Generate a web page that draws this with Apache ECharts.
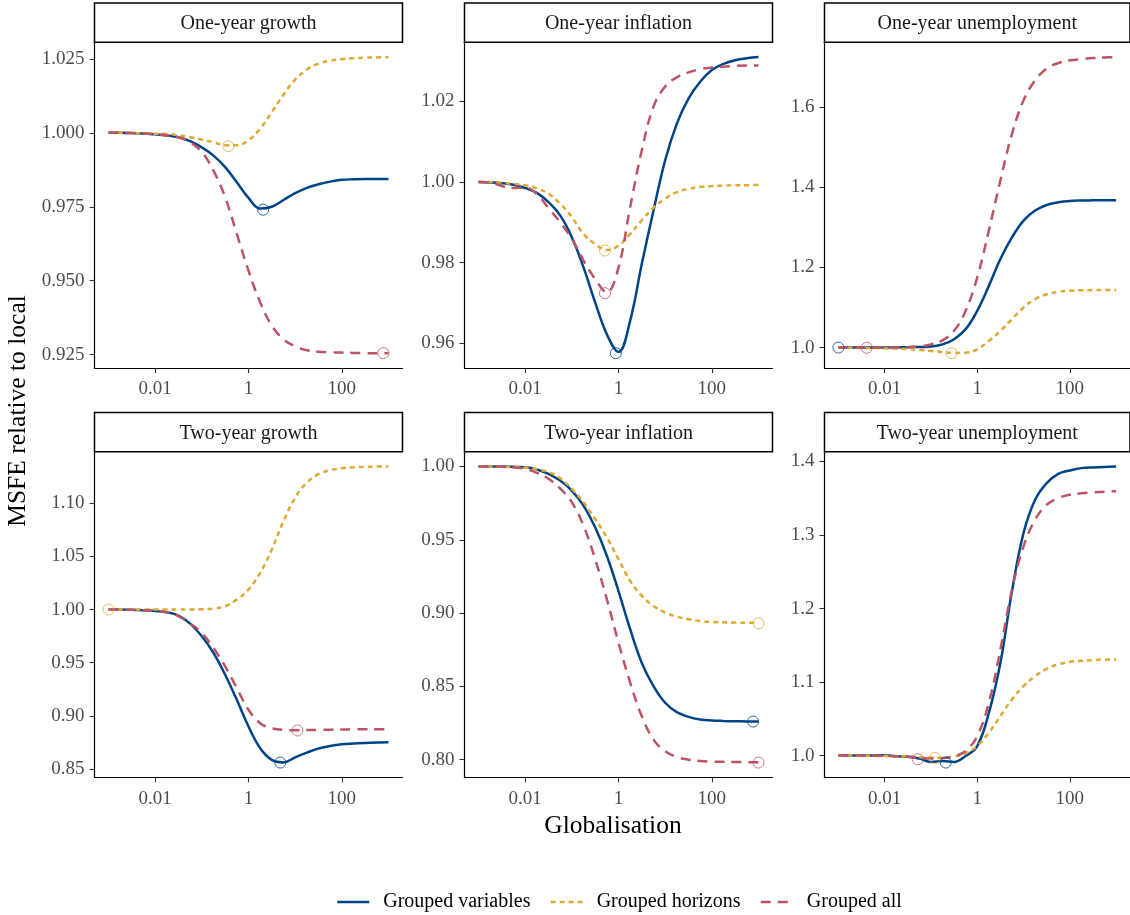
<!DOCTYPE html>
<html>
<head>
<meta charset="utf-8">
<script src="https://cdn.jsdelivr.net/npm/echarts@6/dist/echarts.min.js"></script>
<style>
  html, body { margin: 0; padding: 0; background: #ffffff; }
  #chart { width: 1130px; height: 915px; }
</style>
</head>
<body>
<div id="chart"></div>
<script>
// Globalisation (shrinkage) grid, log-spaced from 0.001 to 1000
const globalisation = [0.001, 0.00178, 0.00316, 0.00562, 0.01, 0.0178, 0.0316, 0.0562, 0.1, 0.178, 0.316, 0.562,
  1, 1.78, 3.16, 5.62, 10, 17.8, 31.6, 56.2, 100, 178, 316, 562, 1000];

const methods = ['Grouped variables', 'Grouped horizons', 'Grouped all'];
const panelTitles = ['One-year growth', 'One-year inflation', 'One-year unemployment',
  'Two-year growth', 'Two-year inflation', 'Two-year unemployment'];

// MSFE relative to local, per target and method
const growth1Variables = [1.0000, 1.0000, 0.9999, 0.9998, 0.9995, 0.9991, 0.9985, 0.9972, 0.9951, 0.9923, 0.9884, 0.9833,
  0.9780, 0.9744, 0.9750, 0.9773, 0.9796, 0.9814, 0.9826, 0.9835, 0.9841, 0.9843, 0.9844, 0.9844, 0.9844];
const growth1Horizons = [1.0000, 1.0000, 0.9999, 0.9998, 0.9997, 0.9996, 0.9992, 0.9985, 0.9977, 0.9968, 0.9958, 0.9958,
  0.9975, 1.0014, 1.0070, 1.0129, 1.0180, 1.0214, 1.0234, 1.0244, 1.0249, 1.0252, 1.0254, 1.0255, 1.0256];
const growth1All = [1.0000, 1.0000, 0.9999, 0.9998, 0.9995, 0.9991, 0.9985, 0.9968, 0.9935, 0.9872, 0.9782, 0.9658,
  0.9534, 0.9427, 0.9348, 0.9302, 0.9278, 0.9265, 0.9260, 0.9258, 0.9257, 0.9256, 0.9255, 0.9255, 0.9255];

const inflation1Variables = [1.0000, 0.9999, 0.9997, 0.9993, 0.9985, 0.9973, 0.9950, 0.9917, 0.9863, 0.9788, 0.9701, 0.9622,
  0.9578, 0.9656, 0.9797, 0.9929, 1.0054, 1.0145, 1.0207, 1.0249, 1.0278, 1.0293, 1.0302, 1.0307, 1.0310];
const inflation1Horizons = [1.0000, 1.0000, 0.9998, 0.9995, 0.9992, 0.9984, 0.9971, 0.9946, 0.9913, 0.9871, 0.9846, 0.9831,
  0.9842, 0.9871, 0.9905, 0.9936, 0.9959, 0.9975, 0.9983, 0.9988, 0.9990, 0.9991, 0.9992, 0.9992, 0.9993];
const inflation1All = [1.0000, 0.9999, 0.9990, 0.9985, 0.9986, 0.9970, 0.9935, 0.9900, 0.9859, 0.9805, 0.9759, 0.9726,
  0.9788, 0.9938, 1.0079, 1.0187, 1.0237, 1.0260, 1.0272, 1.0280, 1.0284, 1.0286, 1.0288, 1.0289, 1.0289];

const unemployment1Variables = [1.000, 1.000, 1.000, 1.000, 1.000, 1.0005, 1.001, 1.0015, 1.0025, 1.008, 1.021, 1.046,
  1.092, 1.154, 1.221, 1.275, 1.317, 1.342, 1.356, 1.3625, 1.366, 1.367, 1.3675, 1.368, 1.368];
const unemployment1Horizons = [1.000, 0.9995, 0.999, 0.9985, 0.998, 0.9975, 0.996, 0.994, 0.9917, 0.989, 0.9867, 0.9875,
  0.9958, 1.0167, 1.0417, 1.0708, 1.100, 1.121, 1.133, 1.139, 1.142, 1.143, 1.1435, 1.144, 1.144];
const unemployment1All = [1.000, 1.000, 1.000, 1.000, 1.000, 1.0005, 1.001, 1.003, 1.008, 1.018, 1.042, 1.092,
  1.175, 1.292, 1.417, 1.533, 1.617, 1.667, 1.696, 1.710, 1.717, 1.720, 1.7225, 1.724, 1.725];

const growth2Variables = [1.0000, 1.0000, 0.9997, 0.9994, 0.9987, 0.9975, 0.9943, 0.9868, 0.9748, 0.9591, 0.9387, 0.9151,
  0.8899, 0.8695, 0.8585, 0.8562, 0.8610, 0.8654, 0.8692, 0.8717, 0.8733, 0.8740, 0.8745, 0.8749, 0.8752];
const growth2Horizons = [1.0000, 1.0000, 1.0000, 1.0000, 1.0000, 1.0000, 1.0000, 1.0000, 1.0003, 1.0010, 1.0031, 1.0094,
  1.0189, 1.0346, 1.0566, 1.0833, 1.1053, 1.1195, 1.1274, 1.1311, 1.1330, 1.1338, 1.1343, 1.1345, 1.1346];
const growth2All = [1.0000, 1.0000, 0.9997, 0.9994, 0.9987, 0.9975, 0.9937, 0.9868, 0.9780, 0.9638, 0.9465, 0.9261,
  0.9057, 0.8931, 0.8884, 0.8868, 0.8865, 0.8866, 0.8868, 0.8870, 0.8872, 0.8873, 0.8874, 0.8874, 0.8874];

const inflation2Variables = [1.000, 1.000, 1.000, 0.9998, 0.9995, 0.998, 0.995, 0.9904, 0.9836, 0.9733, 0.9585, 0.9391,
  0.9150, 0.8890, 0.8660, 0.8502, 0.8388, 0.8324, 0.8292, 0.8274, 0.8267, 0.8264, 0.8262, 0.8261, 0.8260];
const inflation2Horizons = [1.000, 1.000, 0.9998, 0.9996, 0.9993, 0.998, 0.9963, 0.992, 0.9847, 0.9756, 0.9642, 0.9517,
  0.9368, 0.9220, 0.9117, 0.9049, 0.9003, 0.8976, 0.8958, 0.8946, 0.8940, 0.8937, 0.8935, 0.8934, 0.8933];
const inflation2All = [1.000, 1.000, 0.9998, 0.9993, 0.9984, 0.9957, 0.9916, 0.985, 0.9756, 0.9596, 0.9368, 0.9095,
  0.8798, 0.8525, 0.8296, 0.8137, 0.8057, 0.8018, 0.8000, 0.7991, 0.7986, 0.7985, 0.7984, 0.7983, 0.7982];

const unemployment2Variables = [1.000, 1.000, 1.000, 1.0003, 1.0005, 0.999, 0.9986, 0.996, 0.9914, 0.9925, 0.9914, 0.9995,
  1.013, 1.058, 1.126, 1.2235, 1.3027, 1.348, 1.3706, 1.3833, 1.3878, 1.391, 1.3919, 1.3926, 1.3932];
const unemployment2Horizons = [1.000, 1.000, 0.9998, 0.9996, 0.9995, 0.9993, 0.999, 0.9977, 0.9973, 0.9968, 0.9986, 1.0032,
  1.0131, 1.0312, 1.0538, 1.0765, 1.0946, 1.1081, 1.1181, 1.124, 1.1276, 1.129, 1.1299, 1.1305, 1.1308];
const unemployment2All = [1.000, 1.000, 1.000, 0.9998, 0.9995, 0.999, 0.9986, 0.9968, 0.996, 0.9968, 0.999, 1.0063,
  1.0267, 1.072, 1.1443, 1.2258, 1.2846, 1.3208, 1.3412, 1.3502, 1.3548, 1.3568, 1.358, 1.359, 1.3597];

// Minimum-MSFE points [globalisation, MSFE], in method order
const growth1Minima = [[2.06, 0.9740], [0.37, 0.9955], [776, 0.9255]];
const inflation1Minima = [[0.877, 0.9575], [0.513, 0.9830], [0.513, 0.9724]];
const unemployment1Minima = [[0.001, 1.000], [0.277, 0.986], [0.0041, 0.9995]];
const growth2Minima = [[4.79, 0.8560], [0.001, 1.000], [11.2, 0.8862]];
const inflation2Minima = [[769, 0.826], [1000, 0.893], [1000, 0.798]];
const unemployment2Minima = [[0.209, 0.9905], [0.122, 0.9968], [0.0518, 0.995]];

// Axis ticks
const xTicks = [0.01, 1, 100];
const xTickLabels = ['0.01', '1', '100'];
const yTicks = [
  [0.925, 0.950, 0.975, 1.000, 1.025],
  [0.96, 0.98, 1.00, 1.02],
  [1.0, 1.2, 1.4, 1.6],
  [0.85, 0.90, 0.95, 1.00, 1.05, 1.10],
  [0.80, 0.85, 0.90, 0.95, 1.00],
  [1.0, 1.1, 1.2, 1.3, 1.4]
];
const yDecimals = [3, 2, 1, 2, 2, 1];

const panelSeries = [
  [growth1Variables, growth1Horizons, growth1All],
  [inflation1Variables, inflation1Horizons, inflation1All],
  [unemployment1Variables, unemployment1Horizons, unemployment1All],
  [growth2Variables, growth2Horizons, growth2All],
  [inflation2Variables, inflation2Horizons, inflation2All],
  [unemployment2Variables, unemployment2Horizons, unemployment2All]
];
const panelMinima = [growth1Minima, inflation1Minima, unemployment1Minima, growth2Minima, inflation2Minima, unemployment2Minima];

// Styling
const FONT = 'Liberation Serif';
const colors = ['#004488', '#DDAA33', '#BB5566'];
const dashes = ['solid', [5, 4], [10, 7]];
const colLeft = [94.5, 464.5, 824.5];
const colWidth = [308, 308, 305.5];
const rowTop = [42.3, 451.7];
const panelHeight = 325.7;
const stripHeight = 39.3;

// ggplot-style 5% expansion of the data range
function expand(lo, hi, f) { const d = hi - lo; return [lo - f * d, hi + f * d]; }
const lx = expand(Math.log10(globalisation[0]), Math.log10(globalisation[globalisation.length - 1]), 0.05);
const xMin = Math.pow(10, lx[0]);
const xMax = Math.pow(10, lx[1]);

const grids = [], xAxes = [], yAxes = [], series = [], graphics = [];

panelTitles.forEach((title, p) => {
  const r = Math.floor(p / 3), c = p % 3;
  grids.push({ left: colLeft[c], top: rowTop[r], width: colWidth[c], height: panelHeight, containLabel: false, outerBoundsMode: 'none' });

  const all = [];
  panelSeries[p].forEach(s => all.push(...s));
  panelMinima[p].forEach(m => all.push(m[1]));
  const yr = expand(Math.min(...all), Math.max(...all), 0.05);

  xAxes.push({
    type: 'log', logBase: 10, gridIndex: p, min: xMin, max: xMax,
    axisLine: { show: true, lineStyle: { color: '#000', width: 1.2 } },
    axisTick: { show: true, length: 5, customValues: xTicks, lineStyle: { color: '#333', width: 1.1 } },
    axisLabel: {
      customValues: xTicks, margin: 12, fontFamily: FONT, fontSize: 19, color: '#4D4D4D',
      formatter: v => {
        const i = xTicks.findIndex(t => Math.abs(Math.log10(t) - Math.log10(v)) < 1e-6);
        return i >= 0 ? xTickLabels[i] : '';
      }
    },
    splitLine: { show: false }, minorTick: { show: false }
  });
  yAxes.push({
    type: 'value', gridIndex: p, min: yr[0], max: yr[1], scale: true,
    axisLine: { show: true, lineStyle: { color: '#000', width: 1.2 } },
    axisTick: { show: true, length: 5, customValues: yTicks[p], lineStyle: { color: '#333', width: 1.1 } },
    axisLabel: {
      customValues: yTicks[p], margin: 10, fontFamily: FONT, fontSize: 19, color: '#4D4D4D',
      formatter: v => v.toFixed(yDecimals[p])
    },
    splitLine: { show: false }
  });

  panelSeries[p].forEach((vals, m) => {
    series.push({
      type: 'line', name: methods[m], xAxisIndex: p, yAxisIndex: p,
      data: globalisation.map((g, i) => [g, vals[i]]),
      symbol: 'none', showSymbol: false, smooth: 0.4, silent: true, z: 2 + m,
      lineStyle: { color: colors[m], width: 2.5, type: dashes[m], cap: 'butt' },
      itemStyle: { color: colors[m] }
    });
  });
  panelMinima[p].forEach((pt, m) => {
    series.push({
      type: 'scatter', name: 'min ' + methods[m], xAxisIndex: p, yAxisIndex: p,
      data: [pt], symbol: 'circle', symbolSize: 11, silent: true, z: 6,
      itemStyle: { color: 'rgba(255,255,255,0)', borderColor: colors[m], borderWidth: 1 }
    });
  });

  // facet strip
  graphics.push({
    type: 'rect', silent: true, z: 10,
    shape: { x: colLeft[c], y: rowTop[r] - stripHeight, width: colWidth[c], height: stripHeight },
    style: { fill: '#ffffff', stroke: '#000000', lineWidth: 1.5 }
  });
  graphics.push({
    type: 'text', silent: true, z: 11,
    x: colLeft[c] + colWidth[c] / 2, y: rowTop[r] - stripHeight / 2 + 1.5,
    style: { text: title, fill: '#1A1A1A', fontFamily: FONT, fontSize: 20, align: 'center', verticalAlign: 'middle' }
  });
});

graphics.push({
  type: 'text', silent: true, x: 613, y: 826,
  style: { text: 'Globalisation', fill: '#000', fontFamily: FONT, fontSize: 25.5, align: 'center', verticalAlign: 'middle' }
});
graphics.push({
  type: 'text', silent: true, x: 18, y: 411, rotation: Math.PI / 2,
  style: { text: 'MSFE relative to local', fill: '#000', fontFamily: FONT, fontSize: 25.5, align: 'center', verticalAlign: 'middle' }
});

const chart = echarts.init(document.getElementById('chart'), null, { renderer: 'canvas' });
chart.setOption({
  animation: false,
  backgroundColor: '#ffffff',
  grid: grids,
  xAxis: xAxes,
  yAxis: yAxes,
  series: series,
  graphic: graphics,
  legend: {
    data: methods, left: 331, top: 887, itemWidth: 32, itemHeight: 14, itemGap: 19,
    selectedMode: false,
    itemStyle: { opacity: 0 },
    lineStyle: { width: 2.5 },
    textStyle: { fontFamily: FONT, fontSize: 20, color: '#000', padding: [0, 0, 0, 9] }
  }
});
</script>
</body>
</html>
